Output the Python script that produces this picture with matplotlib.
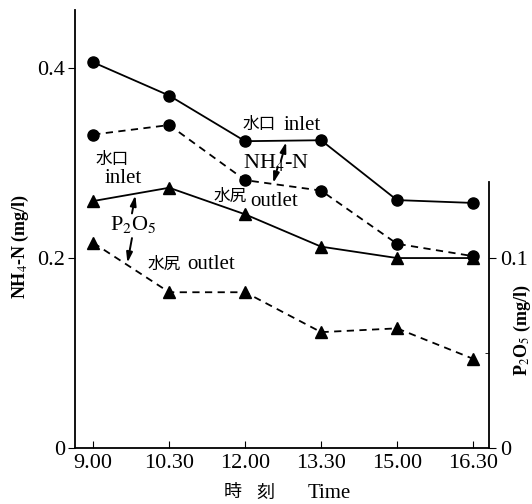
import numpy as np
import matplotlib
matplotlib.use('Agg')
import matplotlib.pyplot as plt

plt.rcParams['font.family'] = ['Liberation Serif', 'Noto Sans CJK JP']
plt.rcParams['mathtext.fontset'] = 'stix'

times = ['9.00', '10.30', '12.00', '13.30', '15.00', '16.30']
nh4_inlet = [0.406, 0.371, 0.323, 0.324, 0.261, 0.258]
nh4_outlet = [0.330, 0.340, 0.282, 0.271, 0.215, 0.202]
p2o5_inlet = [0.130, 0.137, 0.123, 0.106, 0.100, 0.100]
p2o5_outlet = [0.108, 0.082, 0.082, 0.061, 0.063, 0.047]

x = np.arange(len(times))

fig = plt.figure(figsize=(5.32, 5.04), dpi=100)
ax = fig.add_axes([0.141, 0.111, 0.778, 0.869])
ax2 = ax.twinx()

ax.plot(x, nh4_inlet, '-', color='black', lw=1.3, marker='o', ms=8, clip_on=False)
ax.plot(x, nh4_outlet, '--', color='black', lw=1.3, marker='o', ms=8, dashes=(4, 3), clip_on=False)
ax2.plot(x, p2o5_inlet, '-', color='black', lw=1.3, marker='^', ms=8, clip_on=False)
ax2.plot(x, p2o5_outlet, '--', color='black', lw=1.3, marker='^', ms=8, dashes=(4, 3), clip_on=False)

ax.set_xlim(-0.24, 5.21)
ax.set_ylim(0, 0.461)
ax2.set_ylim(0, 0.461 / 2)

ax.spines['top'].set_visible(False)
ax.spines['right'].set_visible(False)
ax2.spines['top'].set_visible(False)
ax2.spines['left'].set_visible(False)
ax2.spines['bottom'].set_visible(False)
ax2.spines['right'].set_bounds(0, 0.14)
for sp in ['left', 'bottom']:
    ax.spines[sp].set_linewidth(1.3)
ax2.spines['right'].set_linewidth(1.3)

ax.set_xticks(x)
ax.set_xticklabels(times, fontsize=16)
ax.tick_params(axis='x', direction='in', length=5, pad=4)
ax.set_yticks([0, 0.2, 0.4])
ax.set_yticklabels(['0', '0.2', '0.4'], fontsize=16)
ax.tick_params(axis='y', direction='out', length=5, pad=2)
ax2.set_yticks([0, 0.1])
ax2.set_yticklabels(['0', '0.1'], fontsize=16)
ax2.set_yticks([0.05], minor=True)
ax2.tick_params(axis='y', which='major', direction='out', length=5, pad=3)
ax2.tick_params(axis='y', which='minor', direction='in', length=3)

# axis titles
fig.text(20 / 532, 1 - 246 / 504, 'NH$_4$-N (mg/l)', rotation=90, fontsize=13,
         fontweight='bold', ha='center', va='center')
fig.text(522 / 532, 1 - 330 / 504, 'P$_2$O$_5$ (mg/l)', rotation=90, fontsize=13,
         fontweight='bold', ha='center', va='center')
fig.text(224 / 532, 1 - 493 / 504, '時', fontsize=13, va='center')
fig.text(256 / 532, 1 - 493 / 504, '刻', fontsize=13, va='center')
fig.text(308 / 532, 1 - 493 / 504, 'Time', fontsize=15, va='center')

# annotations
ax.text(1.97, 0.340, '水口', fontsize=12, va='center')
ax.text(2.5, 0.340, 'inlet', fontsize=15, va='center')
ax.text(1.97, 0.301, 'NH$_4$-N', fontsize=16, va='center')
ax.text(0.03, 0.303, '水口', fontsize=12, va='center')
ax.text(0.145, 0.284, 'inlet', fontsize=15, va='center')
ax.text(1.58, 0.264, '水尻', fontsize=12, va='center')
ax.text(2.07, 0.260, 'outlet', fontsize=15, va='center')
ax.text(0.22, 0.235, 'P$_2$O$_5$', fontsize=16, va='center')
ax.text(0.72, 0.193, '水尻', fontsize=12, va='center')
ax.text(1.24, 0.193, 'outlet', fontsize=15, va='center')

arr = dict(arrowstyle='-|>,head_length=0.6,head_width=0.18', color='black', lw=1.4,
           shrinkA=0, shrinkB=0)
ax.annotate('', xy=(2.54, 0.322), xytext=(2.47, 0.302), arrowprops=arr)
ax.annotate('', xy=(2.37, 0.279), xytext=(2.43, 0.296), arrowprops=arr)
ax.annotate('', xy=(0.555, 0.266), xytext=(0.51, 0.247), arrowprops=arr)
ax.annotate('', xy=(0.45, 0.195), xytext=(0.51, 0.221), arrowprops=arr)

fig.savefig('out.png', dpi=100)
